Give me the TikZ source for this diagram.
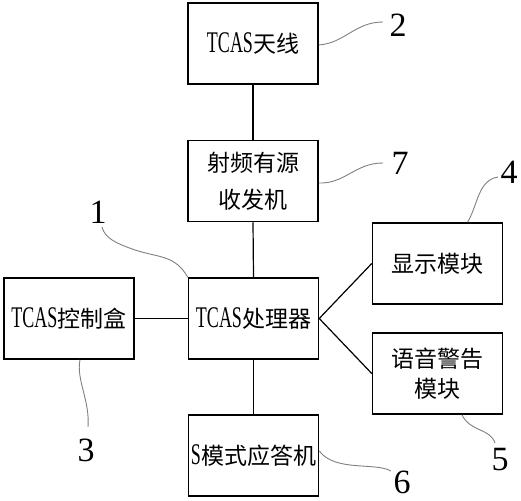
\documentclass[tikz,border=0pt]{standalone}
\usepackage{fontspec}
\setmainfont{Liberation Serif}
\newfontfamily\cjkf{Noto Sans CJK SC}
\newfontfamily\latf[FakeStretch=0.6]{Liberation Serif}
\newcommand{\tcasword}{{\latf\fontsize{30}{30}\selectfont TCAS}}
\tikzset{
  blk/.style={draw, line width=1.5pt, minimum width=130pt, minimum height=81pt, inner sep=0pt,
    align=center, font=\cjkf\fontsize{23}{30}\selectfont},
  link/.style={line width=1.2pt},
  lead/.style={draw=gray, line width=0.9pt},
  num/.style={font=\fontsize{34}{34}\selectfont, inner sep=0pt}
}
\begin{document}
\begin{tikzpicture}[x=1pt,y=-1pt]
\useasboundingbox (0,0) rectangle (521,500);
\node[blk] (ant) at (253,43.5) {\tcasword 天线};
\node[blk, font=\cjkf\fontsize{23}{37}\selectfont] (rf) at (253,181) {射频有源\\收发机};
\node[blk] (proc) at (253.5,318.5) {\tcasword 处理器};
\node[blk] (xpd) at (253.5,455.5) {{\latf\fontsize{30}{30}\selectfont S}模式应答机};
\node[blk] (ctrl) at (69,318.5) {\tcasword 控制盒};
\node[blk] (disp) at (437.5,263.5) {显示模块};
\node[blk] (voice) at (437.5,373.5) {语音警告\\模块};

\draw[link] (ant.south) -- (rf.north);
\draw[link] (rf.south) -- (proc.north);
\draw[link] (proc.south) -- (xpd.north);
\draw[link] (ctrl.east) -- (proc.west);
\draw[link] (proc.east) -- (disp.west);
\draw[link] (proc.east) -- (voice.west);

\node[num] (n2) at (398,25) {2};
\node[num] (n7) at (400,163) {7};
\node[num] (n4) at (509,172) {4};
\node[num] (n1) at (98,212) {1};
\node[num] (n3) at (86,450) {3};
\node[num] (n5) at (500,460) {5};
\node[num] (n6) at (402,482) {6};

\coordinate (e2) at (383,22);
\coordinate (e7) at (383,163);
\coordinate (e4) at (498,177);
\coordinate (e1) at (102,227);
\coordinate (e3) at (88,427);
\coordinate (e5) at (495,443);
\coordinate (e6) at (391,471);

\path[lead] ([yshift=-1.5pt]ant.east) .. controls (345,43) and (355,22) .. (e2);
\path[lead] ([yshift=-2pt]rf.east) .. controls (345,184) and (355,163) .. (e7);
\path[lead] ([xshift=30pt]disp.north) .. controls (478,205) and (478,180) .. (e4);
\path[lead] (proc.north west) .. controls (175,255) and (160,258) .. (135,250) .. controls (115,243) and (105,238) .. (e1);
\path[lead] ([xshift=11pt]ctrl.south) .. controls (76,380) and (90,400) .. (e3);
\path[lead] ([xshift=24.5pt]voice.south) .. controls (470,432) and (490,428) .. (e5);
\path[lead] ([yshift=4.5pt]xpd.east) .. controls (335,472) and (375,462) .. (e6);
\end{tikzpicture}
\end{document}
